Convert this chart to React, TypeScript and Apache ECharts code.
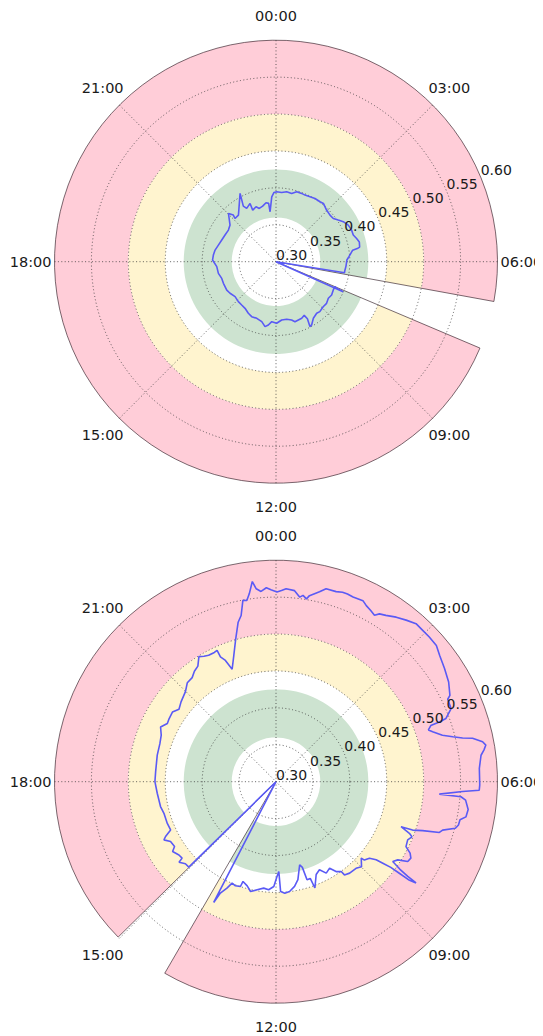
import React, { useEffect, useRef } from 'react';
import * as echarts from 'echarts';

// ---- axis labels / ticks ----
const ANGLE_LABELS = ['00:00', '03:00', '06:00', '09:00', '12:00', '15:00', '18:00', '21:00'];
const RADIUS_TICKS = [0.30, 0.35, 0.40, 0.45, 0.50, 0.55, 0.60];
const RADIUS_MIN = 0.30;
const RADIUS_MAX = 0.60;
const RADIUS_STEP = 0.05;

// ---- coloured bands (radius ranges) ----
const BAND_INNER = [0.50, 0.45, 0.36];
const BAND_OUTER = [0.60, 0.50, 0.425];
const BAND_COLORS = ['#ffcdd8', '#fff4cf', '#cde3d0'];

// ---- time windows covered by the bands (start, end; clockwise) ----
const TOP_WINDOW = [7.53, 6.69];
const BOTTOM_WINDOW = [15.03, 14.01];

// ---- top chart series (hour of day, value) ----
const TOP_TIMES = [
  7.61, 7.58, 7.53, 7.75, 8.06, 8.33, 8.63, 8.91, 9.25, 9.45, 9.77, 10.04, 10.16, 10.08, 10.15,
  10.37, 10.6, 10.83, 11.0, 11.3, 11.63, 11.96, 12.27, 12.46, 12.64, 12.89, 13.25, 13.59, 13.88,
  14.24, 14.56, 14.89, 15.3, 15.7, 16.0, 16.51, 16.86, 17.24, 17.68, 18.1, 18.4, 18.72, 19.07,
  19.45, 19.84, 20.24, 20.57, 21.03, 21.17, 21.1, 21.41, 22.15, 21.97, 22.08, 22.4, 22.38, 22.67,
  22.84, 23.1, 23.36, 23.52, 23.55, 23.75, 23.89, 0.04, 0.31, 0.58, 0.86, 1.1, 1.37, 1.57, 1.84,
  2.11, 2.42, 2.61, 2.96, 3.28, 3.53, 3.75, 3.95, 4.21, 4.49, 4.73, 4.93, 5.11, 5.34, 5.39, 5.43,
  5.74, 5.91, 6.24, 6.5, 6.61,
];
const TOP_VALUES = [
  0.3996, 0.3897, 0.3867, 0.3865, 0.3878, 0.3865, 0.3887, 0.3883, 0.390, 0.389, 0.3918, 0.3983, 0.3992, 0.3883, 0.3821,
  0.3842, 0.3845, 0.3852, 0.3817, 0.3793, 0.3793, 0.3834, 0.3814, 0.3863, 0.3892, 0.3835, 0.381, 0.3814, 0.3793,
  0.3758, 0.3748, 0.3743, 0.3729, 0.3755, 0.377, 0.377, 0.3769, 0.3796, 0.3805, 0.386, 0.3853, 0.384, 0.3812,
  0.3791, 0.3779, 0.3774, 0.3796, 0.3918, 0.3856, 0.3807, 0.3811, 0.4045, 0.3873, 0.3824, 0.3864, 0.3767, 0.3792,
  0.3756, 0.3774, 0.381, 0.3796, 0.3681, 0.388, 0.3938, 0.3947, 0.3941, 0.3958, 0.3949, 0.3988, 0.3988, 0.3984, 0.3993,
  0.4006, 0.4007, 0.4017, 0.3979, 0.3966, 0.3972, 0.4014, 0.406, 0.4097, 0.411, 0.4107, 0.4136, 0.4160, 0.415, 0.4115, 0.4050,
  0.399, 0.396, 0.395, 0.394, 0.394,
];

// ---- bottom chart series (hour of day, value) ----
const BOTTOM_TIMES = [
  15.04, 15.19, 15.35, 15.39, 15.53, 15.73, 15.83, 16.03, 16.17, 16.24, 16.36, 16.6, 16.95, 17.19, 17.63,
  18.0, 18.32, 18.84, 19.21, 19.47, 19.69, 19.88, 20.03, 20.26, 20.45, 20.67, 20.99, 21.21, 21.41, 21.57,
  21.73, 21.89, 22.01, 22.13, 22.3, 22.39, 22.4, 22.49, 22.58, 22.77, 22.95, 23.11, 23.21, 23.31, 23.39,
  23.46, 23.55, 23.61, 23.7, 23.81, 23.9, 0.02, 0.11, 0.2, 0.37, 0.49, 0.55, 0.63, 0.68, 0.86, 0.97,
  1.17, 1.29, 1.39, 1.51, 1.71, 1.81, 1.93, 2.04, 2.11, 2.23, 2.41, 2.59, 2.77, 2.94, 3.11, 3.31, 3.49,
  3.74, 4.0, 4.24, 4.29, 4.49, 4.64, 4.66, 4.67, 4.75, 4.82, 4.96, 5.05, 5.12, 5.17, 5.27, 5.34, 5.42,
  5.51, 5.75, 6.06, 6.16, 6.2, 6.29, 6.31, 6.37, 6.55, 6.7, 6.78, 6.89, 6.97, 7.08, 7.15, 7.23, 7.3,
  7.32, 7.41, 7.47, 7.59, 7.77, 7.87, 7.97, 8.08, 8.18, 8.29, 8.35, 8.38, 8.39, 8.43, 8.44, 8.45, 8.49,
  8.53, 8.62, 8.77, 8.79, 8.99, 9.15, 9.41, 9.58, 9.6, 9.75, 9.88, 10.08, 10.25, 10.44, 10.66, 10.7,
  10.83, 10.86, 10.94, 11.16, 11.33, 11.53, 11.7, 11.84, 11.88, 11.96, 12.08, 12.26, 12.44, 12.66, 12.87,
  13.03, 13.22, 13.25, 13.42, 13.56, 13.65, 13.77, 13.82,
];
const BOTTOM_VALUES = [
  0.4653, 0.4655, 0.4708, 0.464, 0.4647, 0.469, 0.463, 0.4642, 0.471, 0.467, 0.457, 0.4577, 0.4577, 0.46, 0.4616,
  0.464, 0.4636, 0.4648, 0.4655, 0.4677, 0.473, 0.467, 0.468, 0.469, 0.464, 0.468, 0.473, 0.48, 0.481, 0.486,
  0.489, 0.499, 0.496, 0.494, 0.494, 0.495, 0.485, 0.478, 0.4635, 0.4805, 0.501, 0.522, 0.53, 0.5496, 0.5486,
  0.557, 0.573, 0.5626, 0.5585, 0.563, 0.56, 0.557, 0.559, 0.5616, 0.56, 0.552, 0.555, 0.551, 0.556, 0.564, 0.57,
  0.57, 0.572, 0.572, 0.571, 0.572, 0.568, 0.565, 0.562, 0.567, 0.57, 0.576, 0.581, 0.586, 0.5855, 0.5855, 0.585, 0.58,
  0.575, 0.57, 0.563, 0.558, 0.557, 0.5456, 0.5356, 0.523, 0.518, 0.5227, 0.534, 0.547, 0.5596, 0.5726, 0.585, 0.5885, 0.585,
  0.58, 0.576, 0.576, 0.5755, 0.553, 0.5218, 0.5513, 0.558, 0.563, 0.5616, 0.5545, 0.554, 0.551, 0.535, 0.5317, 0.5094, 0.4963,
  0.48, 0.4937, 0.4987, 0.495, 0.4968, 0.5058, 0.51, 0.5086, 0.496, 0.4915, 0.5056, 0.5198, 0.534, 0.5248, 0.508, 0.494, 0.482,
  0.472, 0.4636, 0.46, 0.455, 0.4634, 0.4597, 0.459, 0.4566, 0.4503, 0.4464, 0.4378, 0.4413, 0.433, 0.437, 0.4533, 0.439,
  0.4393, 0.4214, 0.417, 0.436, 0.444, 0.4498, 0.4514, 0.4487, 0.4217, 0.4284, 0.442, 0.4467, 0.4451, 0.4486, 0.4527,
  0.4464, 0.4423, 0.4499, 0.4513, 0.4497, 0.4587, 0.4686, 0.484,
];

const FONT = 'DejaVu Sans';
const GRID_COLOR = '#3a3a3a';
const GRID_DASH = [1, 2.4];
const LINE_COLOR = '#5a5af5';
const OUTLINE_COLOR = 'rgba(45,25,35,0.8)';

const RICH_KEYS = ['n', 'ne', 'e', 'se', 's', 'sw', 'w', 'nw'];
const LABEL_PAD: Record<string, number[]> = {
  n: [0, 0, 22.5, 0],
  ne: [0, 0, 13.7, 0],
  e: [0, 0, 0, 9],
  se: [13.7, 0, 0, 0],
  s: [22.5, 0, 0, 0],
  sw: [13.7, 0, 0, 0],
  w: [0, 9, 0, 0],
  nw: [0, 0, 13.7, 0],
};

function buildRich() {
  const rich: Record<string, any> = {};
  RICH_KEYS.forEach((k) => {
    rich[k] = {
      fontFamily: FONT,
      fontSize: 14.5,
      color: '#1a1a1a',
      padding: LABEL_PAD[k],
    };
  });
  return rich;
}

function mainAngleAxis(polarIndex: number) {
  return {
    polarIndex,
    type: 'value',
    min: 0,
    max: 24,
    interval: 3,
    startAngle: 90,
    clockwise: true,
    z: 2,
    axisLine: { show: false },
    axisTick: { show: false },
    splitLine: { show: true, lineStyle: { color: GRID_COLOR, width: 0.8, type: GRID_DASH } },
    axisLabel: {
      show: true,
      margin: -6,
      formatter: (v: number) => {
        const i = Math.round(v / 3);
        if (i >= ANGLE_LABELS.length) return '';
        return '{' + RICH_KEYS[i] + '|' + ANGLE_LABELS[i] + '}';
      },
      rich: buildRich(),
    },
  };
}

function labelAngleAxis(polarIndex: number) {
  return {
    polarIndex,
    type: 'value',
    min: 0,
    max: 24,
    startAngle: 22.5,
    clockwise: true,
    show: false,
  };
}

function mainRadiusAxis(polarIndex: number) {
  return {
    polarIndex,
    type: 'value',
    min: RADIUS_MIN,
    max: RADIUS_MAX,
    interval: RADIUS_STEP,
    z: 2,
    axisLine: { show: false },
    axisTick: { show: false },
    axisLabel: { show: false },
    splitLine: {
      show: true,
      lineStyle: {
        color: RADIUS_TICKS.map((t, i) => (i === RADIUS_TICKS.length - 1 ? 'rgba(0,0,0,0)' : GRID_COLOR)),
        width: 0.8,
        type: GRID_DASH,
      },
    },
  };
}

function labelRadiusAxis(polarIndex: number) {
  return {
    polarIndex,
    type: 'value',
    min: RADIUS_MIN,
    max: RADIUS_MAX,
    interval: RADIUS_STEP,
    z: 6,
    axisLine: { show: false },
    axisTick: { show: false },
    splitLine: { show: false },
    axisLabel: {
      show: true,
      margin: 0,
      align: 'left',
      verticalAlign: 'bottom',
      fontFamily: FONT,
      fontSize: 14,
      color: '#1a1a1a',
      formatter: (v: number) => v.toFixed(2),
    },
  };
}

function bandSeries(polarIndex: number, win: number[]) {
  const data = BAND_INNER.map((r0, i) => [r0, BAND_OUTER[i]]);
  data.push([RADIUS_MIN, RADIUS_MAX]); // outline
  return {
    type: 'custom',
    coordinateSystem: 'polar',
    polarIndex,
    z: 1,
    silent: true,
    data,
    renderItem: (params: any, api: any) => {
      const idx = params.dataIndex;
      const cs = params.coordSys;
      const cx = cs.cx;
      const cy = cs.cy;
      const pIn = api.coord([api.value(0), win[0]]);
      const pOut = api.coord([api.value(1), win[0]]);
      const pa = api.coord([RADIUS_MAX, win[0]]);
      const pb = api.coord([RADIUS_MAX, win[1]]);
      const rIn = Math.hypot(pIn[0] - cx, pIn[1] - cy);
      const rOut = Math.hypot(pOut[0] - cx, pOut[1] - cy);
      const a0 = Math.atan2(pa[1] - cy, pa[0] - cx);
      let a1 = Math.atan2(pb[1] - cy, pb[0] - cx);
      if (a1 <= a0) a1 += Math.PI * 2;
      const isOutline = idx === BAND_INNER.length;
      return {
        type: 'sector',
        shape: { cx, cy, r0: rIn, r: rOut, startAngle: a0, endAngle: a1, clockwise: true },
        style: isOutline
          ? { fill: 'none', stroke: OUTLINE_COLOR, lineWidth: 0.8 }
          : { fill: BAND_COLORS[idx], stroke: 'none' },
      };
    },
  };
}

function lineSeries(polarIndex: number, times: number[], values: number[]) {
  const data: number[][] = [];
  data.push([RADIUS_MIN, times[0]]);
  times.forEach((t, i) => data.push([values[i], t]));
  data.push([RADIUS_MIN, times[times.length - 1]]);
  return {
    type: 'line',
    coordinateSystem: 'polar',
    polarIndex,
    z: 4,
    silent: true,
    symbol: 'none',
    smooth: false,
    lineStyle: { color: LINE_COLOR, width: 1.6 },
    data,
  };
}

export default function App() {
  const ref = useRef<HTMLDivElement>(null);
  useEffect(() => {
    if (!ref.current) return;
    const chart = echarts.init(ref.current, undefined, { renderer: 'svg' });
    const R = 221.5;
    const option: any = {
      animation: false,
      backgroundColor: '#ffffff',
      polar: [
        { center: [268, 253.7], radius: R },
        { center: [268, 253.7], radius: R },
        { center: [268, 773.7], radius: R },
        { center: [268, 773.7], radius: R },
      ],
      angleAxis: [mainAngleAxis(0), labelAngleAxis(1), mainAngleAxis(2), labelAngleAxis(3)],
      radiusAxis: [mainRadiusAxis(0), labelRadiusAxis(1), mainRadiusAxis(2), labelRadiusAxis(3)],
      series: [
        bandSeries(0, TOP_WINDOW),
        lineSeries(0, TOP_TIMES, TOP_VALUES),
        bandSeries(2, BOTTOM_WINDOW),
        lineSeries(2, BOTTOM_TIMES, BOTTOM_VALUES),
      ],
    };
    chart.setOption(option);
    return () => chart.dispose();
  }, []);
  return <div ref={ref} style={{ width: 535, height: 1028 }} />;
}
